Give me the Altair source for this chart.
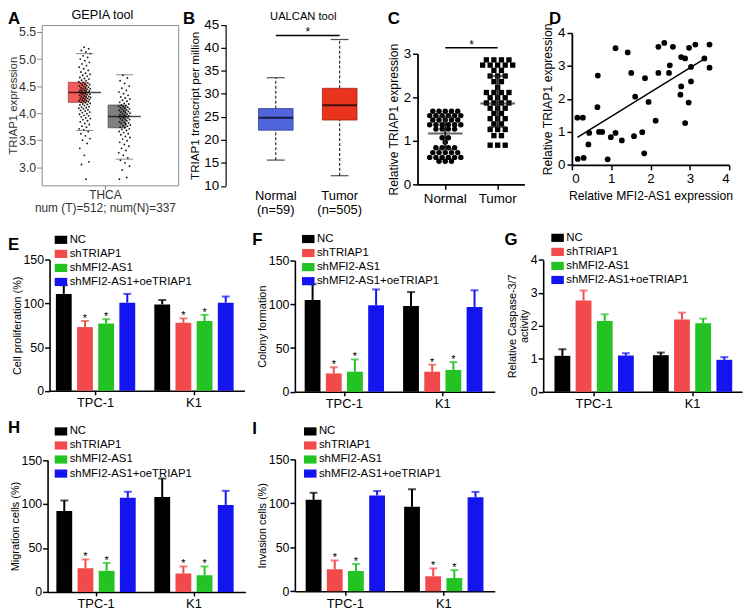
import altair as alt
import pandas as pd

FONT = "Liberation Sans"
W, H = 744, 604


def X(p):
    return p - 8


def Y(p):
    return p - 8


# ======================= DATA =======================
# A: GEPIA (THCA)
gepia_groups = ["Tumor", "Normal"]
gepia_low = [3.68, 3.15]
gepia_q1 = [4.20, 3.73]
gepia_med = [4.38, 3.94]
gepia_q3 = [4.57, 4.15]
gepia_high = [5.10, 4.71]
gepia_note = "num (T)=512; num(N)=337"
gepia_tumor_pts = [
    2.78, 3.05, 3.10, 3.22, 3.35, 3.44, 3.50, 3.53, 3.58, 3.62, 3.66,
    3.69, 3.71, 3.74, 3.76, 3.79, 3.81, 3.84, 3.86, 3.88, 3.90, 3.91, 3.93, 3.95, 3.96, 3.98, 3.99,
    4.01, 4.02, 4.04, 4.05, 4.06, 4.08, 4.09, 4.10, 4.11, 4.12, 4.14, 4.15, 4.16, 4.17, 4.18, 4.19,
    4.20, 4.21, 4.22, 4.23, 4.23, 4.24, 4.25, 4.26, 4.27, 4.27, 4.28, 4.29, 4.30, 4.31, 4.31, 4.32,
    4.33, 4.34, 4.35, 4.35, 4.36, 4.37, 4.38, 4.38, 4.39, 4.40, 4.41, 4.41, 4.42, 4.43, 4.44, 4.45,
    4.45, 4.46, 4.47, 4.48, 4.49, 4.50, 4.51, 4.52, 4.53, 4.54, 4.55, 4.56, 4.57, 4.58, 4.60, 4.61,
    4.63, 4.64, 4.66, 4.68, 4.70, 4.72, 4.74, 4.76, 4.79, 4.82, 4.85, 4.88, 4.91, 4.94, 4.97, 5.00,
    5.03, 5.06, 5.10, 5.13, 5.16, 5.19, 5.22,
]
gepia_normal_pts = [
    2.78, 2.81, 2.95, 3.02, 3.08, 3.13, 3.17, 3.22, 3.27, 3.31, 3.35, 3.39, 3.42, 3.46, 3.49,
    3.52, 3.55, 3.57, 3.60, 3.62, 3.64, 3.66, 3.68, 3.70, 3.71, 3.73, 3.74, 3.76, 3.77, 3.78,
    3.80, 3.81, 3.82, 3.83, 3.84, 3.86, 3.87, 3.88, 3.89, 3.90, 3.91, 3.92, 3.93, 3.94, 3.94,
    3.95, 3.96, 3.97, 3.98, 3.99, 4.00, 4.01, 4.02, 4.03, 4.04, 4.05, 4.06, 4.07, 4.08, 4.09,
    4.10, 4.11, 4.12, 4.13, 4.14, 4.15, 4.17, 4.18, 4.20, 4.22, 4.24, 4.26, 4.28, 4.30, 4.33,
    4.36, 4.39, 4.42, 4.46, 4.50, 4.55, 4.60, 4.65, 4.70,
]

# B: UALCAN
ualcan_groups = ["Normal\n(n=59)", "Tumor\n(n=505)"]
ualcan_low = [15.6, 12.2]
ualcan_q1 = [22.1, 24.3]
ualcan_med = [24.8, 27.5]
ualcan_q3 = [26.8, 31.2]
ualcan_high = [33.5, 41.8]
ualcan_sig = 42.7

# C: Relative TRIAP1 expression
c_groups = ["Normal", "Tumor"]
c_normal = [
    1.68, 1.68, 1.68, 1.68, 1.68,
    1.58, 1.58, 1.58, 1.58, 1.58, 1.58,
    1.48, 1.48, 1.48, 1.48, 1.48,
    1.37, 1.37, 1.37, 1.37, 1.37, 1.37,
    1.27, 1.27, 1.27, 1.27,
    1.07, 1.07,
    0.97,
    0.84, 0.84, 0.84, 0.84,
    0.73, 0.73, 0.73, 0.73, 0.73,
    0.62, 0.62, 0.62, 0.62, 0.62, 0.62,
    0.53, 0.53, 0.53,
]
c_tumor = [
    2.86, 2.86, 2.86, 2.86,
    2.74, 2.74, 2.74, 2.74, 2.74,
    2.62, 2.62,
    2.49, 2.49, 2.49,
    2.36, 2.36,
    2.23,
    2.11, 2.11, 2.11, 2.11,
    1.99, 1.99, 1.99,
    1.87, 1.87, 1.87, 1.87,
    1.75, 1.75, 1.75,
    1.63, 1.63,
    1.51, 1.51, 1.51,
    1.39, 1.39,
    1.26, 1.26, 1.26,
    1.12, 1.12,
    0.90, 0.90, 0.90,
]
c_mean = [1.17, 1.86]
c_sd_lo = [0.81, 1.32]
c_sd_hi = [1.55, 2.49]
c_sig = 3.14

# D: correlation
d_mfi2 = [0.15, 0.14, 0.28, 0.30, 0.44, 0.42, 0.65, 0.66, 0.69, 0.77, 0.91, 0.99, 1.11, 1.11,
          1.27, 1.42, 1.51, 1.58, 1.61, 1.79, 1.86, 1.84, 1.95, 2.13, 2.20, 2.20, 2.35, 2.47,
          2.49, 2.57, 2.76, 2.78, 2.78, 2.88, 2.88, 2.97, 2.98, 3.03, 3.03, 3.14, 3.37, 3.50, 3.50]
d_triap1 = [0.18, 1.43, 1.43, 0.21, 0.97, 0.62, 1.75, 2.71, 1.00, 1.00, 0.17, 0.84, 0.97, 3.54,
            0.74, 3.41, 2.79, 0.87, 2.07, 0.99, 2.63, 0.35, 1.91, 1.34, 2.79, 3.58, 3.70, 2.79,
            3.02, 3.58, 2.13, 2.38, 3.27, 3.23, 1.27, 1.89, 3.55, 2.53, 2.97, 3.65, 3.23, 3.65, 2.95]

# E-I: bar charts (order: TPC-1 x 4 conditions, then K1 x 4 conditions)
conditions = ["NC", "shTRIAP1", "shMFI2-AS1", "shMFI2-AS1+oeTRIAP1"]
cell_lines = ["TPC-1", "K1"]
bar_colors = ["#000000", "#f24a4a", "#22c322", "#1414f0"]
prolif_mean = [111, 73, 77, 101, 99, 78, 80, 101]
prolif_err = [121, 80, 82, 111, 104, 83, 87, 108]
colony_mean = [105, 21, 23, 99, 98, 23, 25, 97]
colony_err = [123, 28, 37, 117, 114, 31, 34, 116]
caspase_mean = [1.09, 2.77, 2.15, 1.10, 1.11, 2.19, 2.08, 0.97]
caspase_err = [1.29, 3.07, 2.35, 1.17, 1.19, 2.40, 2.22, 1.05]
migration_mean = [92, 27, 24, 107, 108, 21, 19, 99]
migration_err = [104, 37, 33, 114, 129, 29, 29, 115]
invasion_mean = [104, 25, 23, 109, 96, 17, 15, 107]
invasion_err = [112, 35, 31, 114, 116, 26, 24, 113]
sig_flags = [False, True, True, False, False, True, True, False]
no_flags = [False] * 8

panel_letters = ["A", "B", "C", "D", "E", "F", "G", "H", "I"]

# ======================= LAYOUT =======================
letter_pos = {"A": (0, 0), "B": (177, 0), "C": (384, 0), "D": (547, 0),
              "E": (0, 228), "F": (247, 223), "G": (502, 223),
              "H": (0, 413), "I": (247, 414)}

GROUP_BW = 86
BAR_W, BAR_STEP = 16, 21.4
OFF_PI = 1 - BAR_W / BAR_STEP
OFF_PO = (GROUP_BW / BAR_STEP - 4 + OFF_PI) / 2
LEG_PATH = "M-1.15,-0.75H1.15V0.75H-1.15Z"


def band_scale(domain, L, R, c1, c2, bw):
    step = c2 - c1
    p_i = 1 - bw / step
    span = R - L
    p_o = max(0.0, (span / step - 2 + p_i) / 2)
    free = span - step * (2 - p_i)
    align = min(1.0, max(0.0, (c1 - bw / 2 - L) / free)) if free > 0 else 0.5
    return alt.Scale(domain=domain, range=[L, R], paddingInner=p_i,
                     paddingOuter=p_o, align=align)


def text_layer(txt, x, y, size, weight="normal", align="left", baseline="top"):
    return alt.Chart(pd.DataFrame({"t": [txt]})).mark_text(
        align=align, baseline=baseline, fontSize=size, fontWeight=weight,
        font=FONT, color="black").encode(text="t:N", x=alt.value(x), y=alt.value(y))


# ======================= PANEL A =======================
GRAY = "#8c8c8c"
xA = band_scale(gepia_groups, X(42), X(170), X(85.5), X(125.7), 33)
yA = alt.Scale(domain=[2.665, 5.628], range=[Y(184), Y(22)])
a_box_df = pd.DataFrame({"g": gepia_groups, "low": gepia_low, "q1": gepia_q1,
                         "med": gepia_med, "q3": gepia_q3, "high": gepia_high})
a_pts_df = pd.DataFrame({"g": ["Tumor"] * len(gepia_tumor_pts) + ["Normal"] * len(gepia_normal_pts),
                         "v": gepia_tumor_pts + gepia_normal_pts})

a_yaxis = alt.Axis(orient="left", offset=-X(42), values=[3.0, 3.5, 4.0, 4.5, 5.0, 5.5],
                   format=".1f", title="TRIAP1 expression", domainColor=GRAY, tickColor=GRAY,
                   domainWidth=1, tickWidth=1, tickSize=5, labelColor="#333", titleColor="#333",
                   labelFontSize=12.5, titleFontSize=11.5, labelPadding=1, titlePadding=0)
a_xaxis = alt.Axis(orient="bottom", offset=Y(184) - H, domain=False, ticks=False, labels=False,
                   tickSize=0, title=["THCA", gepia_note], titleFontSize=12,
                   titleLineHeight=13, titlePadding=4, titleColor="#333")


def ax_(f):
    return alt.X(f, scale=xA, axis=a_xaxis)


def ay_(f):
    return alt.Y(f, scale=yA, axis=a_yaxis)


a_box = alt.Chart(a_box_df).mark_bar(strokeWidth=0.8).encode(
    x=ax_("g:N"), y=ay_("q1:Q"), y2="q3:Q",
    color=alt.Color("g:N", scale=alt.Scale(domain=gepia_groups, range=["#f25c5c", "#808080"]), legend=None),
    stroke=alt.Stroke("g:N", scale=alt.Scale(domain=gepia_groups, range=["#a84040", "#505050"]), legend=None),
)
a_pts = alt.Chart(a_pts_df).transform_window(i="row_number()").transform_calculate(
    j="((datum.i * 0.618034) % 1) * 2 - 1").mark_circle(size=3.5, color="black", opacity=0.9).encode(
    x=ax_("g:N"),
    xOffset=alt.XOffset("j:Q", scale=alt.Scale(domain=[-1, 1], range=[33 / 2 - 6, 33 / 2 + 6])),
    y=ay_("v:Q"),
)
a_med = alt.Chart(a_box_df).mark_tick(size=33, thickness=1.5, color="black").encode(
    x=ax_("g:N"), y=ay_("med:Q"))
a_caps = alt.Chart(a_box_df).transform_fold(["low", "high"], as_=["k", "val"]).mark_tick(
    size=17.6, thickness=1, color="#555").encode(x=ax_("g:N"), y=ay_("val:Q"))

frame_df = pd.DataFrame({"u": [0.5]})
tick_frac = (X(106) - X(42)) / (X(180) - X(42))
a_frame1 = alt.Chart(frame_df).mark_point(opacity=0).encode(
    x=alt.X("u:Q", scale=alt.Scale(domain=[0, 1], range=[X(42), X(180)]),
            axis=alt.Axis(orient="bottom", offset=Y(184) - H, values=[tick_frac], labels=False,
                          tickSize=4, domainColor=GRAY, tickColor=GRAY, domainWidth=1,
                          tickWidth=1, title=None)),
    y=alt.Y("u:Q", scale=alt.Scale(domain=[0, 1], range=[Y(184), Y(22)]),
            axis=alt.Axis(orient="right", offset=X(180) - W, ticks=False, labels=False,
                          domainColor=GRAY, domainWidth=1, title=None)),
)
a_frame2 = alt.Chart(frame_df).mark_point(opacity=0).encode(
    x=alt.X("u:Q", scale=alt.Scale(domain=[0, 1], range=[X(42), X(180)]),
            axis=alt.Axis(orient="top", offset=-Y(22), ticks=False, labels=False,
                          domainColor=GRAY, domainWidth=1, title=None)),
)
panelA = alt.layer(alt.layer(a_box, a_pts, a_med, a_caps), a_frame1, a_frame2).resolve_scale(
    x="independent", y="independent")

# ======================= PANEL B =======================
xB = band_scale(ualcan_groups, X(228), X(375), X(278.7), X(343.3), 35)
yB = alt.Scale(domain=[10, 45], range=[Y(184.5), Y(21.7)])
b_df = pd.DataFrame({"g": ualcan_groups, "low": ualcan_low, "q1": ualcan_q1,
                     "med": ualcan_med, "q3": ualcan_q3, "high": ualcan_high})
b_yaxis = alt.Axis(orient="left", offset=-X(228), values=list(range(10, 50, 5)),
                   title="TRIAP1 transcript per million", labelFontSize=13.5, titleFontSize=11.8,
                   tickSize=5, domainWidth=1.2, tickWidth=1.2, titlePadding=3, labelPadding=2)
b_xaxis = alt.Axis(orient="bottom", offset=Y(184.5) - H, domain=False, ticks=False, tickSize=0,
                   labelExpr="split(datum.label, '\\n')", labelLineHeight=14, labelPadding=4,
                   labelFontSize=13, labelAngle=0, title=None)


def bx(f="g:N"):
    return alt.X(f, scale=xB, axis=b_xaxis)


def by(f):
    return alt.Y(f, scale=yB, axis=b_yaxis)


b_wh_up = alt.Chart(b_df).mark_rule(color="black", strokeWidth=1, strokeDash=[3, 2]).encode(
    x=bx(), y=by("q3:Q"), y2="high:Q")
b_wh_lo = alt.Chart(b_df).mark_rule(color="black", strokeWidth=1, strokeDash=[3, 2]).encode(
    x=bx(), y=by("low:Q"), y2="q1:Q")
b_box = alt.Chart(b_df).mark_bar(strokeWidth=0.8).encode(
    x=bx(), y=by("q1:Q"), y2="q3:Q",
    color=alt.Color("g:N", scale=alt.Scale(domain=ualcan_groups, range=["#5064dc", "#e8341c"]), legend=None),
    stroke=alt.Stroke("g:N", scale=alt.Scale(domain=ualcan_groups, range=["#34429a", "#9c2412"]), legend=None),
)
b_med = alt.Chart(b_df).mark_tick(size=35, thickness=2, color="black").encode(x=bx(), y=by("med:Q"))
b_caps = alt.Chart(b_df).transform_fold(["low", "high"], as_=["k", "val"]).mark_tick(
    size=18, thickness=1.2, color="black").encode(x=bx(), y=by("val:Q"))
b_sig_df = pd.DataFrame({"a": [ualcan_groups[0]], "b": [ualcan_groups[1]], "y": [ualcan_sig], "t": ["*"]})
b_sig = alt.Chart(b_sig_df).mark_rule(color="black", strokeWidth=1.5).encode(
    x=bx("a:N"), x2="b:N", y=by("y:Q"))
b_star = alt.Chart(b_sig_df).mark_text(fontSize=12, font=FONT, baseline="alphabetic", dy=1,
                                       dx=(X(343.3) - X(278.7)) / 2).encode(
    x=bx("a:N"), y=by("y:Q"), text="t:N")
panelB = alt.layer(b_wh_up, b_wh_lo, b_box, b_med, b_caps, b_sig, b_star)

# ======================= PANEL C =======================
xC = band_scale(c_groups, X(422), X(530), X(450), X(503), 30)
yC = alt.Scale(domain=[0, 3], range=[Y(183), Y(51)])
c_df = pd.DataFrame({"g": ["Normal"] * len(c_normal) + ["Tumor"] * len(c_tumor), "v": c_normal + c_tumor})
c_stat = pd.DataFrame({"g": c_groups, "m": c_mean, "lo": c_sd_lo, "hi": c_sd_hi})
c_yaxis = alt.Axis(orient="left", offset=-X(422), values=[0, 1, 2, 3], title="Relative TRIAP1 expression",
                   labelFontSize=13.5, titleFontSize=12.3, tickSize=5, domainWidth=1.8, tickWidth=1.5,
                   titlePadding=3, labelPadding=2)
c_xaxis = alt.Axis(orient="bottom", offset=Y(183) - H, tickSize=5, labelPadding=2, labelFontSize=13.5,
                   domainWidth=1.8, tickWidth=1.5, labelAngle=0, title=None)


def cx(f="g:N"):
    return alt.X(f, scale=xC, axis=c_xaxis)


def cy(f):
    return alt.Y(f, scale=yC, axis=c_yaxis)


c_base = alt.Chart(c_df).transform_window(r="row_number()", groupby=["g", "v"]).transform_joinaggregate(
    n="count()", groupby=["g", "v"]).transform_calculate(
    off="(datum.r - (datum.n + 1) / 2) * (datum.g == 'Tumor' ? 7.6 : 6.3)")
c_off = alt.XOffset("off:Q", scale=alt.Scale(domain=[-25, 25], range=[15 - 25, 15 + 25]))
c_norm = c_base.transform_filter("datum.g == 'Normal'").mark_circle(size=30, color="black", opacity=1).encode(
    x=cx(), xOffset=c_off, y=cy("v:Q"))
c_tum = c_base.transform_filter("datum.g == 'Tumor'").mark_square(size=29, color="black", opacity=1).encode(
    x=cx(), xOffset=c_off, y=cy("v:Q"))
c_meanl = alt.Chart(c_stat).mark_tick(size=35, thickness=2, color="#222").encode(x=cx(), y=cy("m:Q"))
c_sd = alt.Chart(c_stat).mark_rule(strokeWidth=2, color="#222").encode(x=cx(), y=cy("lo:Q"), y2="hi:Q")
c_caps = alt.Chart(c_stat).transform_fold(["lo", "hi"], as_=["k", "val"]).mark_tick(
    size=18, thickness=2, color="#222").encode(x=cx(), y=cy("val:Q"))
c_sig_df = pd.DataFrame({"a": ["Normal"], "b": ["Tumor"], "y": [c_sig], "t": ["*"]})
c_sigl = alt.Chart(c_sig_df).mark_rule(color="black", strokeWidth=1.5).encode(
    x=cx("a:N"), x2="b:N", y=cy("y:Q"))
c_star = alt.Chart(c_sig_df).mark_text(fontSize=12, font=FONT, baseline="alphabetic", dy=1,
                                       dx=(X(503) - X(450)) / 2).encode(
    x=cx("a:N"), y=cy("y:Q"), text="t:N")
panelC = alt.layer(c_norm, c_tum, c_meanl, c_sd, c_caps, c_sigl, c_star)

# ======================= PANEL D =======================
xD = alt.Scale(domain=[0, 4], range=[X(578), X(737)])
yD = alt.Scale(domain=[0, 4], range=[Y(163.3), Y(30)])
d_df = pd.DataFrame({"mx": d_mfi2, "ty": d_triap1})
d_xaxis = alt.Axis(orient="bottom", offset=Y(163.3) - H, values=[0, 1, 2, 3, 4],
                   title="Relative MFI2-AS1 expression", labelFontSize=13.5,
                   titleFontSize=12.3, tickSize=5, domainWidth=1.8,
                   tickWidth=1.5, titlePadding=4, labelPadding=2)
d_yaxis = alt.Axis(orient="left", offset=-X(578), values=[0, 1, 2, 3, 4],
                   title="Relative TRIAP1 expression", labelFontSize=13.5,
                   titleFontSize=12.3, tickSize=5, domainWidth=1.8,
                   tickWidth=1.5, titlePadding=3, labelPadding=2)
d_pts = alt.Chart(d_df).mark_circle(size=34, color="black", opacity=1).encode(
    x=alt.X("mx:Q", scale=xD, axis=d_xaxis), y=alt.Y("ty:Q", scale=yD, axis=d_yaxis))
d_fit = alt.Chart(d_df).transform_regression("mx", "ty", extent=[0.14, 3.37]).mark_line(
    color="black", strokeWidth=1.5).encode(
    x=alt.X("mx:Q", scale=xD, axis=d_xaxis), y=alt.Y("ty:Q", scale=yD, axis=d_yaxis))
panelD = alt.layer(d_pts, d_fit)


# ======================= BAR PANELS =======================
def bar_panel(means, errs, stars, geom, ydom, yvals, ytitle, leg):
    L, R, c1, c2, yb, yt = geom
    rows = []
    for gi, g in enumerate(cell_lines):
        for ci, c in enumerate(conditions):
            k = gi * 4 + ci
            rows.append({"cell": g, "cond": c, "mean": means[k], "err": errs[k], "star": stars[k]})
    df = pd.DataFrame(rows)
    xsc = band_scale(cell_lines, X(L), X(R), X(c1), X(c2), GROUP_BW)
    ysc = alt.Scale(domain=ydom, range=[Y(yb), Y(yt)])
    osc = alt.Scale(domain=conditions, paddingInner=OFF_PI, paddingOuter=OFF_PO)
    csc = alt.Scale(domain=conditions, range=bar_colors)
    xax = alt.Axis(orient="bottom", offset=Y(yb) - H, labelFontSize=13, tickSize=4, labelPadding=2,
                   labelAngle=0, title=None, domainWidth=1.6, tickWidth=1.5)
    yax = alt.Axis(orient="left", offset=-X(L), values=yvals, title=ytitle, labelFontSize=12.5,
                   titleFontSize=11, titleLineHeight=12.5, tickSize=5, domainWidth=1.6, tickWidth=1.5,
                   titlePadding=1, labelPadding=1)
    legend = alt.Legend(orient="none", legendX=X(leg[0]), legendY=Y(leg[1]), title=None,
                        symbolType=LEG_PATH, symbolSize=121, symbolStrokeWidth=0, labelFontSize=11.5,
                        labelFont=FONT, rowPadding=1.2, labelOffset=3, padding=0, labelLimit=300)

    def xe():
        return alt.X("cell:N", scale=xsc, axis=xax)

    def ye(f):
        return alt.Y(f, scale=ysc, axis=yax)

    xo = alt.XOffset("cond:N", scale=osc)
    bars = alt.Chart(df).mark_bar().encode(
        x=xe(), xOffset=xo, y=ye("mean:Q"),
        color=alt.Color("cond:N", scale=csc, legend=legend))
    rule = alt.Chart(df).mark_rule(strokeWidth=2).encode(
        x=xe(), xOffset=xo, y=ye("mean:Q"), y2="err:Q",
        color=alt.Color("cond:N", scale=csc, legend=None))
    caps = alt.Chart(df).mark_tick(size=8, thickness=2).encode(
        x=xe(), xOffset=xo, y=ye("err:Q"),
        color=alt.Color("cond:N", scale=csc, legend=None))
    layers = [bars, rule, caps]
    if any(stars):
        st = alt.Chart(df).transform_filter("datum.star").mark_text(
            text="*", fontSize=11, font=FONT, baseline="alphabetic", dy=1, color="black").encode(
            x=xe(), xOffset=xo, y=ye("err:Q"))
        layers.append(st)
    return alt.layer(*layers)


panelE = bar_panel(prolif_mean, prolif_err, sig_flags, (50, 247, 96.5, 196, 391.7, 259.3),
                   [0, 150], [0, 50, 100, 150], "Cell proliferation (%)", (55.8, 233.3))
panelF = bar_panel(colony_mean, colony_err, sig_flags, (298, 500, 348, 447.5, 392.7, 260),
                   [0, 150], [0, 50, 100, 150], "Colony formation", (305.8, 232.5))
panelG = bar_panel(caspase_mean, caspase_err, no_flags, (549, 750, 600.5, 700, 392.7, 259.3),
                   [0, 4], [0, 1, 2, 3, 4], ["Relative Caspase-3/7", "activity"], (557.8, 231.3))
panelH = bar_panel(migration_mean, migration_err, sig_flags, (48, 248, 97, 196, 595, 461.7),
                   [0, 150], [0, 50, 100, 150], "Migration cells (%)", (55.8, 427))
panelI = bar_panel(invasion_mean, invasion_err, sig_flags, (298, 500, 349, 448.5, 594.3, 461),
                   [0, 150], [0, 50, 100, 150], "Invasion cells (%)", (307.8, 427))

# ======================= TEXTS =======================
texts = [text_layer(l, letter_pos[l][0], letter_pos[l][1], 17, "bold") for l in panel_letters]
texts.append(text_layer("GEPIA tool", 95.5, 3.7, 12.8, align="center", baseline="middle"))
texts.append(text_layer("UALCAN tool", 298.5, 6, 11.3, align="center", baseline="middle"))

chart = alt.layer(panelA, panelB, panelC, panelD, panelE, panelF, panelG, panelH, panelI, *texts).resolve_scale(
    x="independent", y="independent", xOffset="independent", color="independent", stroke="independent"
).resolve_axis(x="independent", y="independent").resolve_legend(color="independent").properties(
    width=W, height=H, padding=0, autosize=alt.AutoSizeParams(type="none")
).configure_view(stroke=None).configure_axis(
    labelFont=FONT, titleFont=FONT, grid=False, labelColor="black", titleColor="black",
    titleFontWeight="normal", domainColor="black", tickColor="black"
).configure_legend(labelFont=FONT)

chart.save("out.html", embed_options={"renderer": "svg", "actions": False})
